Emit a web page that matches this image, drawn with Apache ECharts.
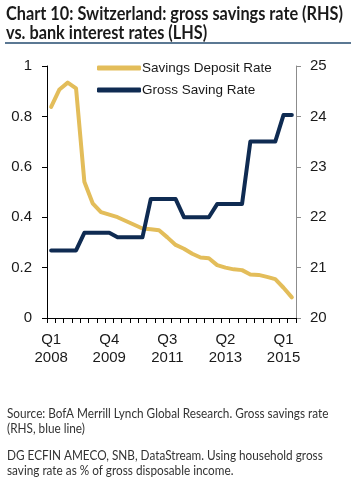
<!DOCTYPE html>
<html>
<head>
<meta charset="utf-8">
<script src="https://cdn.jsdelivr.net/npm/echarts@6/dist/echarts.min.js"></script>
<style>
html,body{margin:0;padding:0;background:#fff;}
#c{width:357px;height:496px;}
</style>
</head>
<body>
<div id="c"></div>
<script>
var categories = ['Q1 2008','Q2 2008','Q3 2008','Q4 2008','Q1 2009','Q2 2009','Q3 2009','Q4 2009',
  'Q1 2010','Q2 2010','Q3 2010','Q4 2010','Q1 2011','Q2 2011','Q3 2011','Q4 2011',
  'Q1 2012','Q2 2012','Q3 2012','Q4 2012','Q1 2013','Q2 2013','Q3 2013','Q4 2013',
  'Q1 2014','Q2 2014','Q3 2014','Q4 2014','Q1 2015','Q2 2015'];
var savingsDepositRate = [0.838,0.907,0.934,0.911,0.541,0.455,0.42,0.41,0.40,0.385,0.37,0.355,0.352,0.348,0.32,0.29,
  0.275,0.255,0.24,0.237,0.21,0.20,0.193,0.19,0.173,0.171,0.163,0.154,0.12,0.082];
var grossSavingRate = [21.34,21.34,21.34,21.34,21.69,21.69,21.69,21.69,21.6,21.6,21.6,21.6,22.36,22.36,22.36,22.36,
  22.0,22.0,22.0,22.0,22.26,22.26,22.26,22.26,23.5,23.5,23.5,23.5,24.03,24.03];
var leftTicks = {min:0, max:1, interval:0.2};
var rightTicks = {min:20, max:25, interval:1};
var titleLines = ['Chart 10: Switzerland: gross savings rate (RHS)','vs. bank interest rates (LHS)'];
var noteLines = ['Source: BofA Merrill Lynch Global Research. Gross savings rate','(RHS, blue line)','','DG ECFIN AMECO, SNB, DataStream. Using household gross','saving rate as % of gross disposable income.'];

var chart = echarts.init(document.getElementById('c'), null, {renderer:'canvas'});
var axFont = 'Liberation Sans';
chart.setOption({
  animation:false,
  backgroundColor:'#fff',
  grid:{left:47,right:61,top:66,bottom:178,containLabel:false},
  legend:{
    orient:'vertical', left:92, top:56, itemWidth:44, itemHeight:5, itemGap:8, icon:'roundRect',
    textStyle:{fontFamily:axFont,fontSize:13.5,color:'#1a1a1a',padding:[0,0,0,-4]},
    data:['Savings Deposit Rate','Gross Saving Rate']
  },
  xAxis:{
    type:'category', data:categories, boundaryGap:true,
    axisLine:{lineStyle:{color:'#000',width:1}},
    axisTick:{show:true,interval:0,length:5,lineStyle:{color:'#000'}},
    axisLabel:{interval:6,margin:13,fontFamily:axFont,fontSize:15,color:'#1a1a1a',lineHeight:18,
      formatter:function(v){return v.replace(' ','\n');}},
    splitLine:{show:false}
  },
  yAxis:[{
    type:'value', min:leftTicks.min, max:leftTicks.max, interval:leftTicks.interval, position:'left',
    axisLine:{show:true,lineStyle:{color:'#000'}},
    axisTick:{show:true,length:5,lineStyle:{color:'#000'}},
    axisLabel:{margin:15,fontFamily:axFont,fontSize:15,color:'#1a1a1a',formatter:function(v){return String(+v.toFixed(1));}},
    splitLine:{show:false}
  },{
    type:'value', min:rightTicks.min, max:rightTicks.max, interval:rightTicks.interval, position:'right',
    axisLine:{show:true,lineStyle:{color:'#8c8c8c'}},
    axisTick:{show:true,length:5,lineStyle:{color:'#8c8c8c'}},
    axisLabel:{margin:14,fontFamily:axFont,fontSize:15,color:'#1a1a1a'},
    splitLine:{show:false}
  }],
  series:[{
    name:'Savings Deposit Rate', type:'line', yAxisIndex:0, data:savingsDepositRate,
    symbol:'none', lineStyle:{color:'#e3bd5a',width:4,cap:'round',join:'round'}, itemStyle:{color:'#e3bd5a'}, z:2
  },{
    name:'Gross Saving Rate', type:'line', yAxisIndex:1, data:grossSavingRate,
    symbol:'none', lineStyle:{color:'#0f2b52',width:4,cap:'round',join:'round'}, itemStyle:{color:'#0f2b52'}, z:3
  }],
  graphic:[
    {type:'text',left:6,top:5,scaleX:0.905,style:{text:titleLines[0],font:'bold 18px Lato',fill:'#1a1a1a'}},
    {type:'text',left:6,top:24,scaleX:0.905,style:{text:titleLines[1],font:'bold 18px Lato',fill:'#1a1a1a'}},
    {type:'rect',shape:{x:5,y:42,width:346,height:2},style:{fill:'#5b7893'}},
    {type:'text',left:7,top:406,scaleX:0.905,style:{text:noteLines[0]+'\n'+noteLines[1],font:'13px Lato',fill:'#333',lineHeight:15}},
    {type:'text',left:7,top:448,scaleX:0.905,style:{text:noteLines[3]+'\n'+noteLines[4],font:'13px Lato',fill:'#333',lineHeight:15}}
  ]
});
</script>
</body>
</html>
